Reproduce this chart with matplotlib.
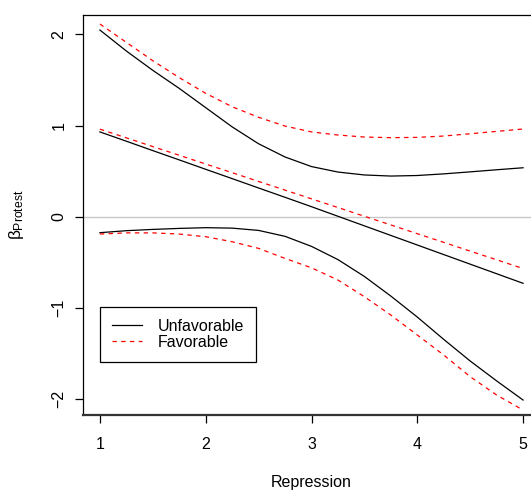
import numpy as np
import matplotlib
matplotlib.use("Agg")
from matplotlib import pyplot as plt

plt.rcParams['font.family'] = ['Liberation Sans', 'DejaVu Sans']
plt.rcParams['mathtext.fontset'] = 'custom'
plt.rcParams['mathtext.rm'] = 'Liberation Sans'
plt.rcParams['mathtext.it'] = 'Liberation Sans'

# repression levels (x grid)
repression = [1.0, 1.25, 1.5, 1.75, 2.0, 2.25, 2.5, 2.75, 3.0,
              3.25, 3.5, 3.75, 4.0, 4.25, 4.5, 4.75, 5.0]

# unfavorable: estimate and interval bounds
unfav_est = [0.93, 0.828, 0.725, 0.623, 0.52, 0.418, 0.315, 0.213, 0.11,
             0.005, -0.10, -0.205, -0.31, -0.415, -0.52, -0.625, -0.73]
unfav_hi = [2.047, 1.817, 1.605, 1.407, 1.196, 0.985, 0.80, 0.655, 0.55,
            0.49, 0.458, 0.446, 0.452, 0.47, 0.492, 0.515, 0.537]
unfav_lo = [-0.175, -0.153, -0.139, -0.128, -0.12, -0.125, -0.15, -0.215, -0.325,
            -0.47, -0.655, -0.87, -1.10, -1.345, -1.582, -1.80, -2.01]

# favorable: estimate and interval bounds
fav_est = [0.96, 0.865, 0.769, 0.674, 0.578, 0.483, 0.387, 0.292, 0.196,
           0.101, 0.005, -0.09, -0.186, -0.281, -0.377, -0.472, -0.568]
fav_hi = [2.113, 1.912, 1.711, 1.525, 1.353, 1.206, 1.09, 0.994, 0.93,
          0.896, 0.874, 0.867, 0.87, 0.885, 0.91, 0.936, 0.962]
fav_lo = [-0.19, -0.177, -0.177, -0.19, -0.219, -0.274, -0.347, -0.457, -0.56,
          -0.694, -0.877, -1.078, -1.297, -1.516, -1.754, -1.955, -2.12]

xticks = [1, 2, 3, 4, 5]
yticks = [-2, -1, 0, 1, 2]
ytick_labels = ['\u22122', '\u22121', '0', '1', '2']

W, H = 531, 491
fig = plt.figure(figsize=(W / 100, H / 100), dpi=100)
ax = fig.add_axes([83 / W, 76 / H, (540 - 83) / W, 400 / H])

ax.axhline(0, color='#c8c8c8', lw=1.0, zorder=1)

lw = 0.9
ax.plot(repression, unfav_est, color='black', lw=lw, label='Unfavorable')
ax.plot(repression, unfav_hi, color='black', lw=lw)
ax.plot(repression, unfav_lo, color='black', lw=lw)
for ys in (fav_est, fav_hi, fav_lo):
    ln, = ax.plot(repression, ys, color='red', lw=lw, dashes=(3.5, 3.5))
ln.set_label('Favorable')

ax.set_xlim(0.84, 5.16)
ax.set_ylim(-2.174, 2.212)

ax.set_xticks(xticks)
ax.set_yticks(yticks)
ax.set_yticklabels(ytick_labels, rotation=90, va='center')
ax.tick_params(direction='out', length=6, width=0.9, labelsize=11.5, colors='black')
ax.tick_params(axis='x', pad=10)
ax.tick_params(axis='y', pad=6)

ax.spines['right'].set_visible(False)
for s in ('left', 'top'):
    ax.spines[s].set_linewidth(0.9)
ax.spines['bottom'].set_linewidth(1.6)
ax.spines['bottom'].set_color('#333333')

fig.text(311.5 / W, 1 - 482 / H, 'Repression', ha='center', va='center', fontsize=11.5)
fig.text(16 / W, 1 - 215 / H, r'$\beta_{\mathrm{Protest}}$', rotation=90,
         ha='center', va='center', fontsize=12.5)

leg = ax.legend(loc='upper left', bbox_to_anchor=((100 - 83) / 457, (415 - 307) / 400),
                borderaxespad=0, fancybox=False, edgecolor='black', framealpha=1,
                fontsize=11.5, handlelength=1.9, handletextpad=0.95,
                borderpad=0.75, labelspacing=0.05)
leg.get_frame().set_linewidth(0.9)

fig.savefig('out.png', dpi=100)
